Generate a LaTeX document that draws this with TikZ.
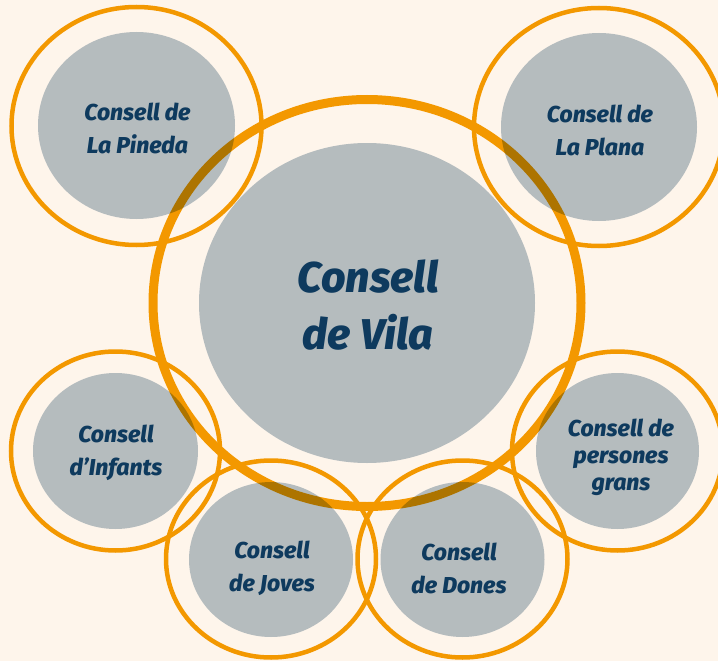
\documentclass[tikz,border=0pt]{standalone}
\usepackage{fontspec}
\setmainfont{Fira Sans}[BoldItalicFont={Fira Sans ExtraBold Italic}]
\usetikzlibrary{shapes.geometric}
\definecolor{bgcream}{RGB}{254,245,235}
\definecolor{ringorange}{RGB}{243,152,0}
\definecolor{discgrey}{RGB}{182,196,207}
\definecolor{labelnavy}{RGB}{14,58,94}
\begin{document}
\begin{tikzpicture}[x=1pt,y=-1pt,
  ring/.style={ellipse, draw=ringorange, line width=4.5pt, inner sep=0pt, outer sep=0pt},
  disc/.style={ellipse, fill=discgrey, blend mode=multiply, inner sep=0pt, outer sep=0pt},
  lbl/.style={text=labelnavy, font=\bfseries\itshape\fontsize{23}{33}\selectfont, align=center, inner sep=0pt},
  biglbl/.style={lbl, font=\bfseries\itshape\fontsize{43}{57}\selectfont},
  tightlbl/.style={lbl, font=\bfseries\itshape\fontsize{23}{27}\selectfont}]
\fill[bgcream] (0,0) rectangle (718,661);
\useasboundingbox (0,0) rectangle (718,661);
% rings
\node[ring, line width=9pt, minimum width=428pt, minimum height=407pt] (vilaring) at (367,303) {};
\node[ring, minimum width=250pt, minimum height=238pt] (pinedaring) at (136.5,126) {};
\node[ring, minimum width=250pt, minimum height=238pt] (planaring) at (599,127) {};
\node[ring, minimum width=209pt, minimum height=199pt] (infantsring) at (115.5,451) {};
\node[ring, minimum width=210pt, minimum height=197pt] (jovesring) at (271,559) {};
\node[ring, minimum width=210pt, minimum height=197pt] (donesring) at (462.5,559) {};
\node[ring, minimum width=211pt, minimum height=199pt] (gransring) at (617.5,451) {};
% discs
\node[disc, minimum width=336pt, minimum height=320pt] (vila) at (367,303) {};
\node[disc, minimum width=197pt, minimum height=187pt] (pineda) at (136.5,125.5) {};
\node[disc, minimum width=196pt, minimum height=188pt] (plana) at (599,127) {};
\node[disc, minimum width=165pt, minimum height=156pt] (infants) at (115.5,451) {};
\node[disc, minimum width=164pt, minimum height=155pt] (joves) at (271,559.5) {};
\node[disc, minimum width=164pt, minimum height=155pt] (dones) at (462.5,559.5) {};
\node[disc, minimum width=163pt, minimum height=156pt] (grans) at (617.5,451) {};
% labels
\node[biglbl] (vilat) at (368,305) {Consell\\de Vila};
\node[lbl] (pinedat) at (137.5,128) {Consell de\\La Pineda};
\node[lbl] (planat) at (600,130) {Consell de\\La Plana};
\node[lbl] (infantst) at (116,453) {Consell\\d’Infants};
\node[lbl] (jovest) at (272,568) {Consell\\de Joves};
\node[lbl] (donest) at (459,568) {Consell\\de Dones};
\node[tightlbl] (granst) at (621,457) {Consell de\\persones\\grans};
\end{tikzpicture}
\end{document}
